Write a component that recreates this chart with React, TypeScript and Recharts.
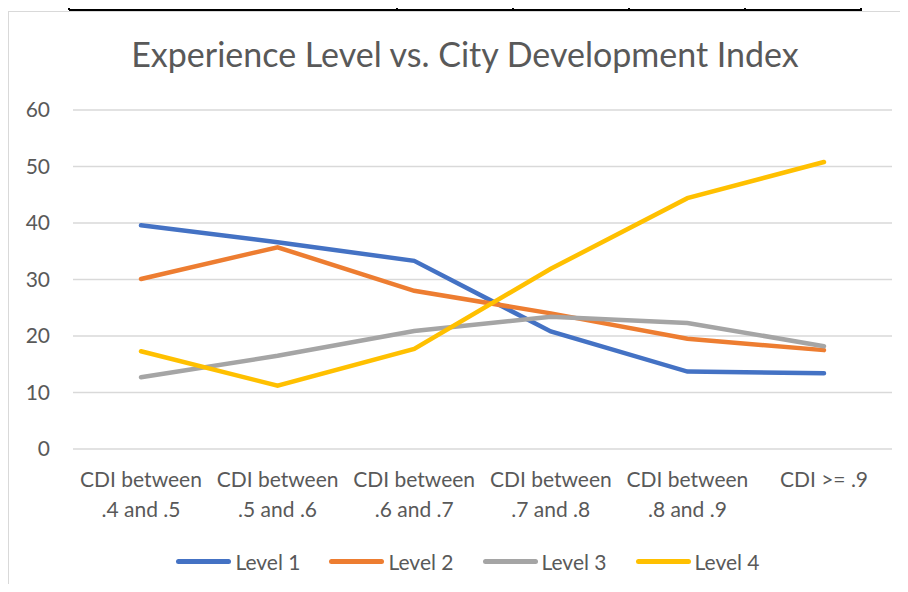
import React from "react";
import { CartesianGrid, Legend, Line, LineChart, XAxis, YAxis } from "recharts";

const categories = [
  "CDI between .4 and .5",
  "CDI between .5 and .6",
  "CDI between .6 and .7",
  "CDI between .7 and .8",
  "CDI between .8 and .9",
  "CDI >= .9",
];
const level1 = [39.6, 36.6, 33.3, 20.8, 13.7, 13.4];
const level2 = [30.1, 35.7, 28.0, 24.0, 19.5, 17.5];
const level3 = [12.7, 16.5, 20.9, 23.4, 22.3, 18.2];
const level4 = [17.3, 11.2, 17.7, 31.9, 44.4, 50.8];
const yTicks = [0, 10, 20, 30, 40, 50, 60];

const data = categories.map((c, i) => ({
  name: c,
  l1: level1[i],
  l2: level2[i],
  l3: level3[i],
  l4: level4[i],
}));

const FONT = "Lato, 'Open Sans', sans-serif";
const TEXT = "#595959";

function CatTick({ x, y, payload }: any) {
  const label: string = payload.value;
  const idx = label.indexOf(" between ");
  const lines =
    idx >= 0 ? [label.slice(0, idx + 8), label.slice(idx + 9)] : [label];
  return (
    <text textAnchor="middle" fill={TEXT} fontSize={21} fontFamily={FONT}>
      {lines.map((l, i) => (
        <tspan key={i} x={x} y={y + 38 + i * 30}>
          {l}
        </tspan>
      ))}
    </text>
  );
}

function LegendRow({ payload }: any) {
  return (
    <div
      style={{
        display: "flex",
        justifyContent: "center",
        gap: 29,
        paddingLeft: 28,
        fontFamily: FONT,
        fontSize: 21,
        color: TEXT,
      }}
    >
      {(payload || []).map((p: any) => (
        <div key={p.value} style={{ display: "flex", alignItems: "center" }}>
          <div
            style={{
              width: 55,
              height: 5,
              borderRadius: 3,
              background: p.color,
              marginRight: 4,
            }}
          />
          <span>{p.value}</span>
        </div>
      ))}
    </div>
  );
}

export default function App() {
  const tableCols = [69, 397, 513, 629, 745, 861];
  return (
    <div style={{ position: "relative", width: 908, height: 592, margin: -8, overflow: "hidden", background: "#fff" }}>
      {/* spreadsheet cells above the chart */}
      <div style={{ position: "absolute", left: 69, top: 9, width: 793, height: 1.5, background: "#000" }} />
      {tableCols.map((cx) => (
        <div key={cx} style={{ position: "absolute", left: cx - 1, top: 0, width: 2, height: 10, background: "#000" }} />
      ))}
      {/* chart frame */}
      <div style={{ position: "absolute", left: 8, top: 11, width: 920, height: 600, border: "1.5px solid #D9D9D9" }} />
      <div
        style={{
          position: "absolute",
          left: 0,
          top: 34,
          width: 930,
          textAlign: "center",
          fontFamily: FONT,
          fontSize: 34,
          lineHeight: "40px",
          color: TEXT,
        }}
      >
        Experience Level vs. City Development Index
      </div>
      <div style={{ position: "absolute", left: 0, top: 0 }}>
        <LineChart width={908} height={592} data={data} margin={{ top: 110, right: 16, bottom: 88, left: 0 }}>
          <CartesianGrid vertical={false} stroke="#D9D9D9" strokeWidth={1.5} />
          <XAxis
            dataKey="name"
            axisLine={false}
            tickLine={false}
            tickSize={0}
            tickMargin={0}
            interval={0}
            padding={{ left: 68, right: 68 }}
            tick={<CatTick />}
          />
          <YAxis
            domain={[0, 60]}
            ticks={yTicks}
            width={73}
            axisLine={false}
            tickLine={false}
            tickSize={0}
            tickMargin={23}
            tick={{ fill: TEXT, fontSize: 21, fontFamily: FONT }}
          />
          <Legend content={<LegendRow />} wrapperStyle={{ left: 0, top: 549, width: 908 }} />
          <Line name="Level 1" dataKey="l1" stroke="#4472C4" strokeWidth={4.5} strokeLinecap="round" dot={false} isAnimationActive={false} />
          <Line name="Level 2" dataKey="l2" stroke="#ED7D31" strokeWidth={4.5} strokeLinecap="round" dot={false} isAnimationActive={false} />
          <Line name="Level 3" dataKey="l3" stroke="#A5A5A5" strokeWidth={4.5} strokeLinecap="round" dot={false} isAnimationActive={false} />
          <Line name="Level 4" dataKey="l4" stroke="#FFC000" strokeWidth={4.5} strokeLinecap="round" dot={false} isAnimationActive={false} />
        </LineChart>
      </div>
    </div>
  );
}
